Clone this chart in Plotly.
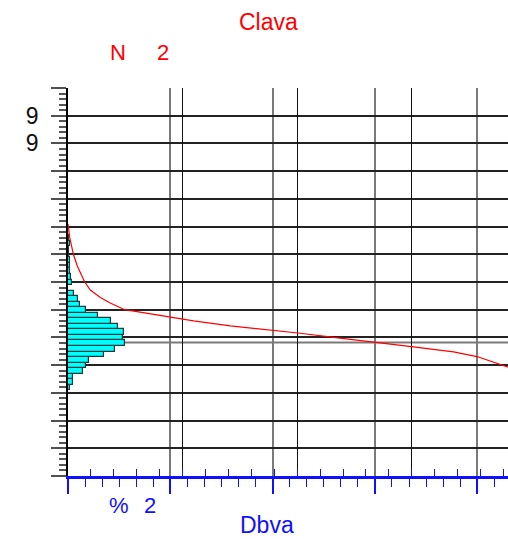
import plotly.graph_objects as go

# ---------------- data ----------------
# histogram bins (value axis, bottom to top) and bar lengths (percent units)
bin_centers = [3.19, 3.39, 3.59, 3.79, 3.99, 4.19, 4.39, 4.59, 4.79, 4.99,
               5.19, 5.39, 5.59, 5.79, 5.99, 6.19, 6.39, 6.59, 6.79, 6.99,
               7.19, 7.39, 7.59, 7.79, 7.99, 8.19, 8.39, 8.59]
hist_pct = [0.016, 0.052, 0.049, 0.150, 0.179, 0.201, 0.355, 0.456, 0.553, 0.534,
            0.544, 0.492, 0.416, 0.289, 0.179, 0.113, 0.094, 0.062, 0.0, 0.035,
            0.025, 0.016, 0.022, 0.022, 0.008, 0.008, 0.016, 0.006]
bin_width = 0.2

# cumulative curve
curve_x = [0.0, 0.018, 0.052, 0.091, 0.162, 0.218, 0.316, 0.413, 0.555, 0.772,
           1.000, 1.228, 1.587, 1.994, 2.271, 2.596, 2.987, 3.378, 3.571, 3.769,
           3.998, 4.157, 4.304, 4.40]
curve_y = [9.09, 8.59, 8.01, 7.58, 7.01, 6.71, 6.44, 6.24, 6.00, 5.87,
           5.72, 5.60, 5.42, 5.27, 5.15, 5.00, 4.84, 4.66, 4.57, 4.48,
           4.31, 4.12, 3.94, 3.80]

mean_line = 4.82

y_tickvals = list(range(0, 15))
y_ticktext = ["" for _ in y_tickvals]
y_ticktext[13] = "9"
y_ticktext[12] = "9"

title_text = "Clava"
top_left_label = "N"
top_left_value = "2"
bottom_label = "%"
bottom_value = "2"
x_title = "Dbva"

# ---------------- layout helpers ----------------
W, H = 508, 539
ML, MR, MT, MB = 68, 0, 88, 63
PW, PH = W - ML - MR, H - MT - MB


def px_x(px):
    return (px - ML) / PW


def px_y(py):
    return (H - MB - py) / PH


FONT = "Liberation Sans, Arial, sans-serif"
BLUE = "#1010ff"

fig = go.Figure()

fig.add_trace(go.Bar(
    x=hist_pct, y=bin_centers, width=bin_width, orientation="h",
    base=0,
    marker=dict(color="#00FFFF", line=dict(color="#183c3c", width=1.2)),
    xaxis="x", yaxis="y", showlegend=False,
))

fig.add_trace(go.Scatter(
    x=curve_x, y=curve_y, mode="lines",
    line=dict(color="#ff0000", width=1.2),
    xaxis="x", yaxis="y", showlegend=False,
))

# helper trace so the secondary x-axis is rendered
fig.add_trace(go.Scatter(x=[None], y=[None], xaxis="x2", yaxis="y",
                         showlegend=False, hoverinfo="skip"))

fig.add_shape(type="line", xref="paper", x0=0, x1=1, yref="y",
              y0=mean_line, y1=mean_line,
              line=dict(color="#7a7a7a", width=2), layer="below")

fig.update_layout(
    width=W, height=H,
    margin=dict(l=ML, r=MR, t=MT, b=MB, pad=0),
    paper_bgcolor="white", plot_bgcolor="white",
    showlegend=False,
    bargap=0,
    xaxis=dict(
        range=[0, PW / 102.3], dtick=1, tick0=0,
        showgrid=True, gridcolor="#7a7a7a", gridwidth=1.5,
        zeroline=False, showticklabels=False,
        ticks="outside", ticklen=15, tickcolor=BLUE, tickwidth=1.5,
        minor=dict(dtick=1 / 6, tick0=0, ticks="outside", ticklen=8,
                   tickcolor=BLUE, tickwidth=1, showgrid=False),
        showline=True, linecolor=BLUE, linewidth=2.5,
        fixedrange=True,
    ),
    xaxis2=dict(
        overlaying="x", anchor="y", side="bottom",
        range=[0, PW / 114.6], dtick=1, tick0=0,
        showgrid=True, gridcolor="#111111", gridwidth=1.2,
        zeroline=False, showticklabels=False,
        ticks="inside", ticklen=7, tickcolor=BLUE, tickwidth=1,
        minor=dict(dtick=0.2, tick0=0, ticks="inside", ticklen=7,
                   tickcolor=BLUE, tickwidth=1, showgrid=False),
        showline=False,
    ),
    yaxis=dict(
        range=[0, 14], tickmode="array", tickvals=y_tickvals, ticktext=y_ticktext,
        showgrid=True, gridcolor="#222222", gridwidth=1.5,
        zeroline=False,
        ticks="outside", ticklen=15, tickcolor="#505050", tickwidth=1.5,
        minor=dict(dtick=0.2, tick0=0, ticks="outside", ticklen=7,
                   tickcolor="#555555", tickwidth=1.5, showgrid=False),
        showline=True, linecolor="#000000", linewidth=1.5,
        tickfont=dict(family=FONT, size=23, color="#111111"),
        ticklabelstandoff=8,
        fixedrange=True,
    ),
    annotations=[
        dict(text=title_text, x=px_x(268), y=px_y(22), xref="paper", yref="paper",
             showarrow=False, xanchor="center", yanchor="middle",
             font=dict(family=FONT, size=23, color="#ff0000")),
        dict(text=top_left_label, x=px_x(118), y=px_y(52), xref="paper", yref="paper",
             showarrow=False, xanchor="center", yanchor="middle",
             font=dict(family=FONT, size=22, color="#ff0000")),
        dict(text=top_left_value, x=px_x(162.5), y=px_y(52), xref="paper", yref="paper",
             showarrow=False, xanchor="center", yanchor="middle",
             font=dict(family=FONT, size=22, color="#ff0000")),
        dict(text=bottom_label, x=px_x(118.5), y=px_y(505), xref="paper", yref="paper",
             showarrow=False, xanchor="center", yanchor="middle",
             font=dict(family=FONT, size=22, color=BLUE)),
        dict(text=bottom_value, x=px_x(150), y=px_y(505), xref="paper", yref="paper",
             showarrow=False, xanchor="center", yanchor="middle",
             font=dict(family=FONT, size=22, color=BLUE)),
        dict(text=x_title, x=px_x(267), y=px_y(525), xref="paper", yref="paper",
             showarrow=False, xanchor="center", yanchor="middle",
             font=dict(family=FONT, size=23, color=BLUE)),
    ],
)

fig.write_html("out.html")
